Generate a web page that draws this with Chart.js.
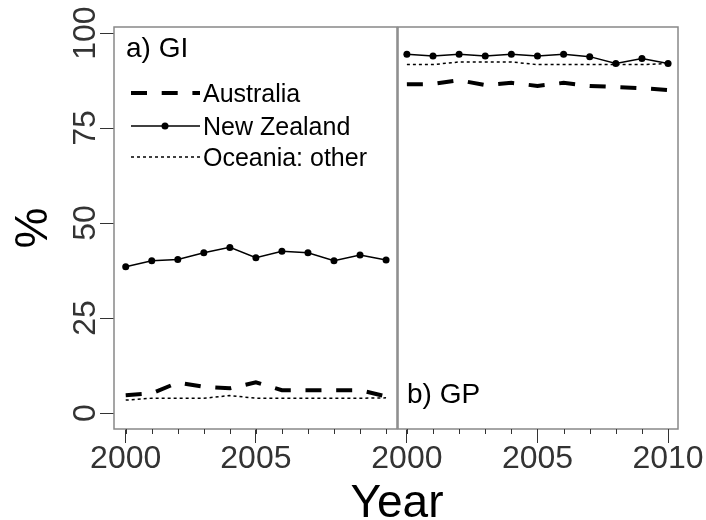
<!DOCTYPE html>
<html>
<head>
<meta charset="utf-8">
<script src="https://cdn.jsdelivr.net/npm/chart.js@4"></script>
<style>
html, body { margin: 0; padding: 0; background: #fff; }
#wrap { position: relative; width: 706px; height: 520px; }
#wrap canvas { position: absolute; left: 0; top: 0; }
</style>
</head>
<body>
<div id="wrap">
  <canvas id="gi" width="706" height="520"></canvas>
  <canvas id="gp" width="706" height="520"></canvas>
</div>
<script>
const years = [2000, 2001, 2002, 2003, 2004, 2005, 2006, 2007, 2008, 2009, 2010];
const seriesNames = ['Australia', 'New Zealand', 'Oceania: other'];

// a) GI
const giAustralia = [4.7, 5.2, 8.0, 6.9, 6.5, 8.1, 6.0, 6.0, 6.0, 6.0, 4.4];
const giNewZealand = [38.5, 40.1, 40.4, 42.2, 43.6, 40.9, 42.6, 42.2, 40.1, 41.6, 40.3];
const giOther = [3.4, 3.9, 3.9, 3.9, 4.6, 3.9, 3.9, 3.9, 3.9, 3.9, 4.0];

// b) GP
const gpAustralia = [86.5, 86.6, 87.6, 86.3, 86.9, 86.1, 86.9, 86.1, 85.8, 85.5, 85.0];
const gpNewZealand = [94.4, 94.0, 94.4, 94.0, 94.4, 94.0, 94.4, 93.8, 92.0, 93.3, 92.0];
const gpOther = [91.7, 91.7, 92.4, 92.4, 92.4, 91.7, 91.7, 91.7, 91.7, 91.7, 92.0];

const yTicks = [0, 25, 50, 75, 100];
const xTicksLeft = [2000, 2005];
const xTicksRight = [2000, 2005, 2010];

const FONT = '"Liberation Sans", Arial, sans-serif';

function pts(vals) {
    return years.map((yr, i) => ({ x: yr, y: vals[i] }));
}

function makeDatasets(aus, nz, other) {
    return [
        { label: seriesNames[0], data: pts(aus), borderColor: '#000', borderWidth: 4, borderDash: [16, 14.7], pointRadius: 0, tension: 0 },
        { label: seriesNames[1], data: pts(nz), borderColor: '#000', borderWidth: 1.5, pointRadius: 3.5, pointBackgroundColor: '#000', pointBorderWidth: 0, tension: 0 },
        { label: seriesNames[2], data: pts(other), borderColor: '#000', borderWidth: 1.5, borderDash: [3, 3], pointRadius: 0, tension: 0 }
    ];
}

// box, minor ticks and panel label
const panelPlugin = {
    id: 'panel',
    afterDraw(chart, args, opts) {
        const { ctx, chartArea: a, scales } = chart;
        ctx.save();
        ctx.strokeStyle = '#888';
        ctx.lineWidth = 1.5;
        ctx.strokeRect(a.left, a.top, a.right - a.left, a.bottom - a.top);
        ctx.strokeStyle = '#333';
        ctx.lineWidth = 1;
        years.forEach(yr => {
            const x = Math.round(scales.x.getPixelForValue(yr)) + 0.5;
            ctx.beginPath();
            ctx.moveTo(x, a.bottom);
            ctx.lineTo(x, a.bottom + 5);
            ctx.stroke();
        });
        ctx.fillStyle = '#000';
        ctx.font = '28px ' + FONT;
        ctx.textBaseline = 'alphabetic';
        ctx.textAlign = 'left';
        const ly = opts.bottom ? a.bottom - 26 : a.top + 30;
        ctx.fillText(opts.label, a.left + opts.dx, ly);
        if (opts.xTitle) {
            ctx.font = '46px ' + FONT;
            ctx.textAlign = 'center';
            ctx.fillText(opts.xTitle, 397, 517);
        }
        ctx.restore();
    }
};

// legend drawn inside the left panel
const legendPlugin = {
    id: 'insideLegend',
    afterDraw(chart) {
        const { ctx } = chart;
        const rowY = [93, 126, 157];
        ctx.save();
        chart.data.datasets.forEach((ds, i) => {
            const y = rowY[i];
            ctx.strokeStyle = '#000';
            ctx.lineWidth = ds.borderWidth;
            ctx.setLineDash(ds.borderDash || []);
            ctx.beginPath();
            ctx.moveTo(131, y);
            ctx.lineTo(200, y);
            ctx.stroke();
            if (ds.pointRadius > 0) {
                ctx.setLineDash([]);
                ctx.fillStyle = '#000';
                ctx.beginPath();
                ctx.arc(165, y, ds.pointRadius, 0, Math.PI * 2);
                ctx.fill();
            }
            ctx.setLineDash([]);
            ctx.fillStyle = '#000';
            ctx.font = '25px ' + FONT;
            ctx.textBaseline = 'middle';
            ctx.textAlign = 'left';
            ctx.fillText(ds.label, 203, y + 2);
        });
        ctx.restore();
    }
};

function xScale(min, max, ticks) {
    return {
        type: 'linear', min: min, max: max,
        afterBuildTicks: s => { s.ticks = ticks.map(v => ({ value: v })); },
        afterFit: s => { s.height = 91; },
        border: { display: false },
        grid: { drawOnChartArea: false, tickLength: 14, color: '#333', tickColor: '#333' },
        ticks: {
            autoSkip: false, maxRotation: 0, padding: -3, color: '#333',
            font: { family: FONT, size: 32 },
            callback: v => String(v)
        }
    };
}

new Chart(document.getElementById('gi'), {
    type: 'line',
    data: { datasets: makeDatasets(giAustralia, giNewZealand, giOther) },
    options: {
        responsive: false, animation: false,
        layout: { padding: { top: 27, right: 309, left: 0, bottom: 0 } },
        plugins: {
            legend: { display: false }, tooltip: { enabled: false },
            panel: { label: 'a) GI', dx: 12, bottom: false }
        },
        scales: {
            x: xScale(1999.55, 2010.42, xTicksLeft),
            y: {
                type: 'linear', min: -4.2, max: 101.6,
                afterBuildTicks: s => { s.ticks = yTicks.map(v => ({ value: v })); },
                afterFit: s => { s.width = 114; },
                border: { display: false },
                grid: { drawOnChartArea: false, tickLength: 14, tickColor: '#333' },
                ticks: {
                    minRotation: 90, crossAlign: 'center', padding: -13, color: '#333',
                    font: { family: FONT, size: 32 }
                },
                title: { display: true, text: '%', color: '#000', font: { family: FONT, size: 46 }, padding: { top: 7, bottom: 0 } }
            }
        }
    },
    plugins: [panelPlugin, legendPlugin]
});

new Chart(document.getElementById('gp'), {
    type: 'line',
    data: { datasets: makeDatasets(gpAustralia, gpNewZealand, gpOther) },
    options: {
        responsive: false, animation: false,
        layout: { padding: { top: 27, right: 28, left: 398, bottom: 0 } },
        plugins: {
            legend: { display: false }, tooltip: { enabled: false },
            panel: { label: 'b) GP', dx: 9, bottom: true, xTitle: 'Year' }
        },
        scales: {
            x: xScale(1999.66, 2010.38, xTicksRight),
            y: { type: 'linear', min: -4.2, max: 101.6, display: false }
        }
    },
    plugins: [panelPlugin]
});
</script>
</body>
</html>
